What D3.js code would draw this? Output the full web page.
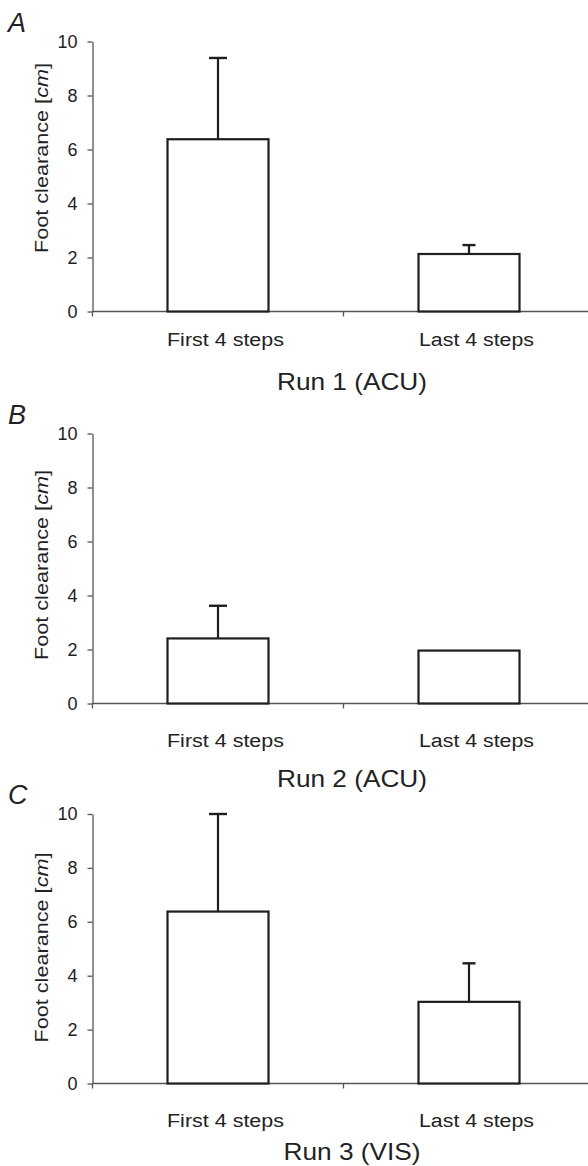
<!DOCTYPE html>
<html>
<head>
<meta charset="utf-8">
<script src="https://cdn.jsdelivr.net/npm/d3@7"></script>
<style>
  body { margin: 0; background: #fff; }
  text { font-family: "Liberation Sans", Arial, sans-serif; fill: #222; }
</style>
</head>
<body>
<main></main>
<script>
// data
const categories = ["First 4 steps", "Last 4 steps"];
const runLabels = ["Run 1 (ACU)", "Run 2 (ACU)", "Run 3 (VIS)"];
const panelLetters = ["A", "B", "C"];
const means = [
  [6.38, 2.13],
  [2.41, 1.96],
  [6.38, 3.03]
];
const errors = [
  [3.01, 0.33],
  [1.21, 0],
  [3.62, 1.43]
];
const yTicks = [0, 2, 4, 6, 8, 10];

const w = 588;
const h = 1166;

// per panel layout: y of the zero line and the top (10) line
const layout = [
  { y0: 311.5, y10: 41.5, labY: 346, runY: 389.5, ylabC: 158 },
  { y0: 703.5, y10: 433.5, labY: 746.5, runY: 786.5, ylabC: 565 },
  { y0: 1083.5, y10: 814, labY: 1126.5, runY: 1160, ylabC: 947.5 }
];

const axisX = 92.5;
const capW = [18, 13];
const ink = "#1e1e1e";

const svg = d3
  .select("main")
  .append("svg")
  .attr("width", w)
  .attr("height", h);

const xScale = d3
  .scaleBand()
  .domain(categories)
  .range([axisX, axisX + 2 * 251]);

const barW = 101;

runLabels.forEach((run, p) => {
  const L = layout[p];
  const yScale = d3.scaleLinear().domain([0, 10]).range([L.y0, L.y10]);
  const g = svg.append("g");

  // y axis
  const yAxis = g
    .append("g")
    .attr("transform", `translate(${axisX},0)`)
    .call(
      d3.axisLeft(yScale)
        .tickValues(yTicks)
        .tickSize(5)
        .tickSizeOuter(0)
        .tickPadding(10)
    );
  yAxis.select(".domain").attr("stroke", "#555").attr("stroke-width", 1.3);
  yAxis.selectAll(".tick line").attr("stroke", "#555").attr("stroke-width", 1.3);
  yAxis
    .selectAll(".tick text")
    .style("font-size", "18px")
    .style("font-family", "'Liberation Sans', Arial, sans-serif")
    .attr("fill", "#222");

  // x axis line + boundary ticks
  g.append("line")
    .attr("x1", axisX)
    .attr("x2", w)
    .attr("y1", yScale(0))
    .attr("y2", yScale(0))
    .attr("stroke", "#555")
    .attr("stroke-width", 1.3);
  g.selectAll(".xtick")
    .data(categories.concat(["end"]))
    .enter()
    .append("line")
    .attr("x1", (d, i) => axisX + i * xScale.bandwidth())
    .attr("x2", (d, i) => axisX + i * xScale.bandwidth())
    .attr("y1", yScale(0))
    .attr("y2", yScale(0) + 5)
    .attr("stroke", "#555")
    .attr("stroke-width", 1.3);

  // bars
  g.selectAll(".bar")
    .data(categories)
    .enter()
    .append("rect")
    .attr("x", d => xScale(d) + xScale.bandwidth() / 2 - barW / 2)
    .attr("y", (d, i) => yScale(means[p][i]))
    .attr("width", barW)
    .attr("height", (d, i) => yScale(0) - yScale(means[p][i]))
    .attr("fill", "#fff")
    .attr("stroke", ink)
    .attr("stroke-width", 2.2);

  // error bars (upper only)
  categories.forEach((c, i) => {
    if (!errors[p][i]) return;
    const cx = xScale(c) + xScale.bandwidth() / 2;
    const top = yScale(means[p][i] + errors[p][i]);
    g.append("line")
      .attr("x1", cx).attr("x2", cx)
      .attr("y1", yScale(means[p][i]))
      .attr("y2", top)
      .attr("stroke", ink)
      .attr("stroke-width", 2.2);
    g.append("line")
      .attr("x1", cx - capW[i] / 2).attr("x2", cx + capW[i] / 2)
      .attr("y1", top).attr("y2", top)
      .attr("stroke", ink)
      .attr("stroke-width", 2.4);
  });

  // category labels
  g.selectAll(".cat")
    .data(categories)
    .enter()
    .append("text")
    .attr("x", d => xScale(d) + xScale.bandwidth() / 2 + 7.5)
    .attr("y", L.labY)
    .attr("text-anchor", "middle")
    .attr("textLength", (d, i) => (i === 0 ? 117 : 115))
    .attr("lengthAdjust", "spacingAndGlyphs")
    .style("font-size", "18px")
    .text(d => d);

  // run title
  g.append("text")
    .attr("x", 352)
    .attr("y", L.runY)
    .attr("text-anchor", "middle")
    .attr("textLength", p === 2 ? 137 : 150)
    .attr("lengthAdjust", "spacingAndGlyphs")
    .style("font-size", "24px")
    .text(run);

  // panel letter
  g.append("text")
    .attr("x", 8)
    .attr("y", L.y10 - 10)
    .style("font-size", "27px")
    .style("font-style", "italic")
    .text(panelLetters[p]);

  // y axis label
  const yl = g
    .append("text")
    .attr("transform", `translate(48,${L.ylabC}) rotate(-90)`)
    .attr("text-anchor", "middle")
    .attr("textLength", 190)
    .attr("lengthAdjust", "spacingAndGlyphs")
    .style("font-size", "19px");
  yl.append("tspan").text("Foot clearance [");
  yl.append("tspan").style("font-style", "italic").text("cm");
  yl.append("tspan").text("]");
});
</script>
</body>
</html>
